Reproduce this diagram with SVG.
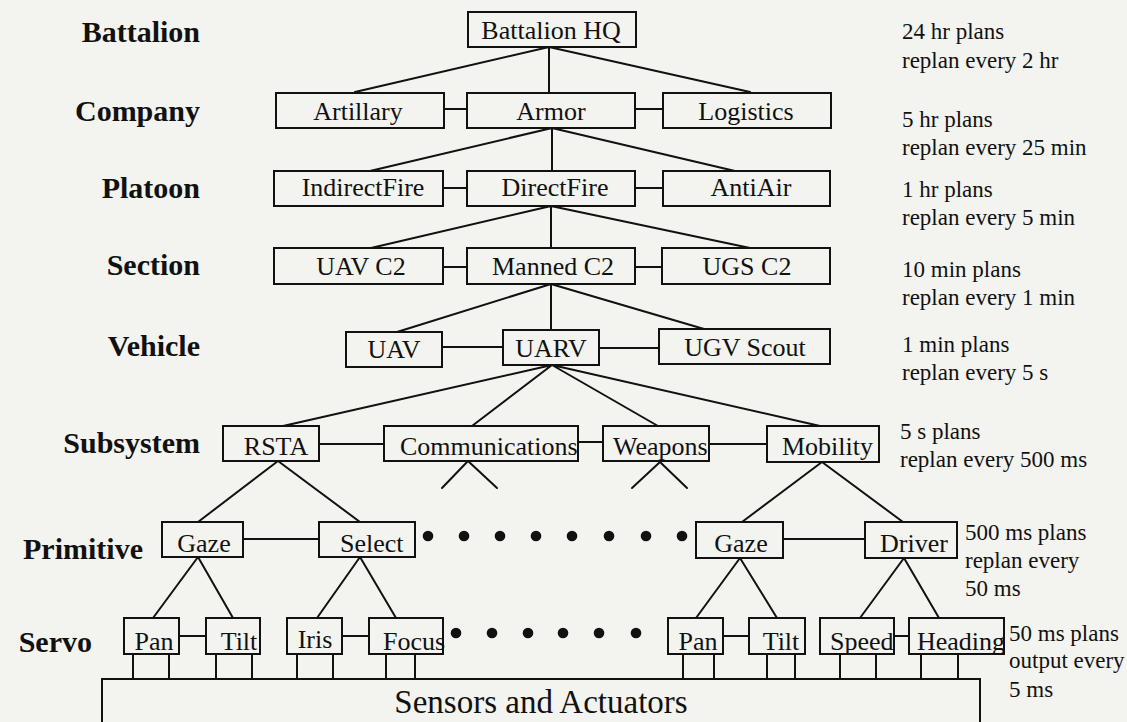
<svg xmlns="http://www.w3.org/2000/svg" width="1127" height="722" viewBox="0 0 1127 722">
<style>
.bg{fill:#f3f3ef}
.box{fill:none;stroke:#111;stroke-width:2}
.ln{stroke:#111;stroke-width:2;fill:none;stroke-linecap:round}
.t{font-family:"Liberation Serif","Times New Roman",serif;font-size:26px;fill:#111}
.tm{text-anchor:middle}
.lbl{font-family:"Liberation Serif","Times New Roman",serif;font-size:30px;font-weight:bold;fill:#111;text-anchor:end}
.r{font-family:"Liberation Serif","Times New Roman",serif;font-size:23px;fill:#111}
.dot{fill:#111}
.big{font-family:"Liberation Serif","Times New Roman",serif;font-size:33px;fill:#111;text-anchor:middle}
</style>
<rect class="bg" x="0" y="0" width="1127" height="722"/>

<g id="level-labels">
<text class="lbl" x="200" y="42">Battalion</text>
<text class="lbl" x="200" y="121">Company</text>
<text class="lbl" x="200" y="198">Platoon</text>
<text class="lbl" x="200" y="275">Section</text>
<text class="lbl" x="200" y="356">Vehicle</text>
<text class="lbl" x="200" y="453">Subsystem</text>
<text class="lbl" x="143" y="559">Primitive</text>
<text class="lbl" x="92" y="652">Servo</text>
</g>

<g id="timing">
<text class="r" x="902" y="39">24 hr plans</text>
<text class="r" x="902" y="68">replan every 2 hr</text>
<text class="r" x="902" y="127">5 hr plans</text>
<text class="r" x="902" y="155">replan every 25 min</text>
<text class="r" x="902" y="197">1 hr plans</text>
<text class="r" x="902" y="225">replan every 5 min</text>
<text class="r" x="902" y="277">10 min plans</text>
<text class="r" x="902" y="305">replan every 1 min</text>
<text class="r" x="902" y="352">1 min plans</text>
<text class="r" x="902" y="380">replan every 5 s</text>
<text class="r" x="900" y="439">5 s plans</text>
<text class="r" x="900" y="467">replan every 500 ms</text>
<text class="r" x="965" y="540">500 ms plans</text>
<text class="r" x="965" y="568">replan every</text>
<text class="r" x="965" y="596">50 ms</text>
<text class="r" x="1009" y="641">50 ms plans</text>
<text class="r" x="1009" y="668">output every</text>
<text class="r" x="1009" y="697">5 ms</text>
</g>

<g id="connectors">
<path class="ln" d="M549,47 L355,92 M549,47 L549,92 M549,47 L750,92"/>
<path class="ln" d="M444,109 H467 M635,109 H663"/>
<path class="ln" d="M552,128 L370,171 M552,128 L552,171 M552,128 L735,171"/>
<path class="ln" d="M443,188 H467 M635,188 H663"/>
<path class="ln" d="M551,206 L371,248 M551,206 L551,248 M551,206 L750,248"/>
<path class="ln" d="M443,267 H467 M635,267 H662"/>
<path class="ln" d="M551,284 L397,332 M551,284 L551,330 M551,284 L704,329"/>
<path class="ln" d="M442,347 H503 M599,348 H659"/>
<path class="ln" d="M552,365 L283,426 M552,365 L472,426 M552,365 L658,426 M552,365 L820,426"/>
<path class="ln" d="M319,444 H384 M578,442 H603 M709,444 H767"/>
<path class="ln" d="M278,461 L198,522 M278,461 L360,522"/>
<path class="ln" d="M468,461 L442,488 M468,461 L497,488"/>
<path class="ln" d="M660,462 L632,488 M660,462 L687,488"/>
<path class="ln" d="M822,462 L742,522 M822,462 L903,522"/>
<path class="ln" d="M243,539 H319 M783,539 H865"/>
<path class="ln" d="M198,557 L153,618 M198,557 L233,618 M360,557 L317,618 M360,557 L396,618"/>
<path class="ln" d="M740,558 L696,618 M740,558 L777,618 M904,558 L860,618 M904,558 L939,618"/>
<path class="ln" d="M179,636 H206 M342,636 H369 M723,636 H749 M894,636 H909"/>
<path class="ln" d="M133,654 V679 M169,654 V679 M216,654 V679 M252,654 V679 M297,654 V679 M333,654 V679 M386,654 V679 M415,654 V679 M683,654 V679 M714,654 V679 M767,654 V679 M795,654 V679 M840,654 V679 M876,654 V679 M921,654 V679 M958,654 V679"/>
</g>

<g id="dots">
<circle class="dot" cx="428" cy="536" r="5.3"/>
<circle class="dot" cx="464" cy="536" r="5.3"/>
<circle class="dot" cx="500" cy="536" r="5.3"/>
<circle class="dot" cx="536" cy="536" r="5.3"/>
<circle class="dot" cx="572" cy="536" r="5.3"/>
<circle class="dot" cx="609" cy="536" r="5.3"/>
<circle class="dot" cx="646" cy="536" r="5.3"/>
<circle class="dot" cx="682" cy="536" r="5.3"/>
<circle class="dot" cx="456" cy="633" r="5.3"/>
<circle class="dot" cx="492" cy="633" r="5.3"/>
<circle class="dot" cx="528" cy="633" r="5.3"/>
<circle class="dot" cx="563" cy="633" r="5.3"/>
<circle class="dot" cx="599" cy="633" r="5.3"/>
<circle class="dot" cx="636" cy="633" r="5.3"/>
</g>

<g id="battalion-hq"><rect class="box" x="468" y="12" width="168" height="35"/><text class="t tm" x="551" y="39">Battalion HQ</text></g>

<g id="artillary"><rect class="box" x="276" y="93" width="168" height="35"/><text class="t tm" x="358" y="120">Artillary</text></g>
<g id="armor"><rect class="box" x="467" y="93" width="168" height="35"/><text class="t tm" x="551" y="120">Armor</text></g>
<g id="logistics"><rect class="box" x="663" y="93" width="168" height="35"/><text class="t tm" x="746" y="120">Logistics</text></g>

<g id="indirectfire"><rect class="box" x="274" y="171" width="169" height="35"/><text class="t tm" x="363" y="196">IndirectFire</text></g>
<g id="directfire"><rect class="box" x="467" y="171" width="168" height="35"/><text class="t tm" x="555" y="196">DirectFire</text></g>
<g id="antiair"><rect class="box" x="663" y="171" width="167" height="35"/><text class="t tm" x="751" y="196">AntiAir</text></g>

<g id="uav-c2"><rect class="box" x="274" y="248" width="169" height="36"/><text class="t tm" x="361" y="275">UAV C2</text></g>
<g id="manned-c2"><rect class="box" x="467" y="248" width="168" height="36"/><text class="t tm" x="553" y="275">Manned C2</text></g>
<g id="ugs-c2"><rect class="box" x="662" y="248" width="168" height="36"/><text class="t tm" x="747" y="275">UGS C2</text></g>

<g id="uav"><rect class="box" x="346" y="332" width="96" height="35"/><text class="t tm" x="394" y="358">UAV</text></g>
<g id="uarv"><rect class="box" x="503" y="330" width="96" height="35"/><text class="t tm" x="551" y="357">UARV</text></g>
<g id="ugv-scout"><rect class="box" x="659" y="329" width="171" height="35"/><text class="t tm" x="745" y="356">UGV Scout</text></g>

<g id="rsta"><rect class="box" x="223" y="426" width="96" height="35"/><text class="t tm" x="276" y="455">RSTA</text></g>
<g id="communications"><rect class="box" x="384" y="426" width="194" height="35"/><text class="t" x="400" y="455">Communications</text></g>
<g id="weapons"><rect class="box" x="603" y="426" width="106" height="35"/><text class="t" x="613" y="455">Weapons</text></g>
<g id="mobility"><rect class="box" x="767" y="426" width="112" height="36"/><text class="t" x="782" y="455">Mobility</text></g>

<g id="gaze"><rect class="box" x="162" y="522" width="81" height="35"/><text class="t tm" x="204" y="552">Gaze</text></g>
<g id="select"><rect class="box" x="319" y="522" width="96" height="35"/><text class="t" x="340" y="552">Select</text></g>
<g id="gaze-2"><rect class="box" x="696" y="522" width="87" height="36"/><text class="t tm" x="741" y="552">Gaze</text></g>
<g id="driver"><rect class="box" x="865" y="522" width="92" height="36"/><text class="t" x="880" y="552">Driver</text></g>

<g id="pan"><rect class="box" x="124" y="618" width="55" height="36"/><text class="t tm" x="154" y="650">Pan</text></g>
<g id="tilt"><rect class="box" x="206" y="618" width="54" height="36"/><text class="t tm" x="239" y="650">Tilt</text></g>
<g id="iris"><rect class="box" x="287" y="618" width="55" height="36"/><text class="t tm" x="315" y="648">Iris</text></g>
<g id="focus"><rect class="box" x="369" y="618" width="74" height="36"/><text class="t" x="383" y="650">Focus</text></g>
<g id="pan-2"><rect class="box" x="668" y="618" width="55" height="36"/><text class="t tm" x="698" y="650">Pan</text></g>
<g id="tilt-2"><rect class="box" x="749" y="618" width="56" height="36"/><text class="t tm" x="781" y="650">Tilt</text></g>
<g id="speed"><rect class="box" x="820" y="618" width="74" height="36"/><text class="t" x="830" y="650">Speed</text></g>
<g id="heading"><rect class="box" x="909" y="618" width="95" height="36"/><text class="t" x="917" y="650">Heading</text></g>

<g id="sensors-actuators"><rect class="box" x="102" y="679" width="878" height="60"/><text class="big" x="541" y="713">Sensors and Actuators</text></g>
</svg>
